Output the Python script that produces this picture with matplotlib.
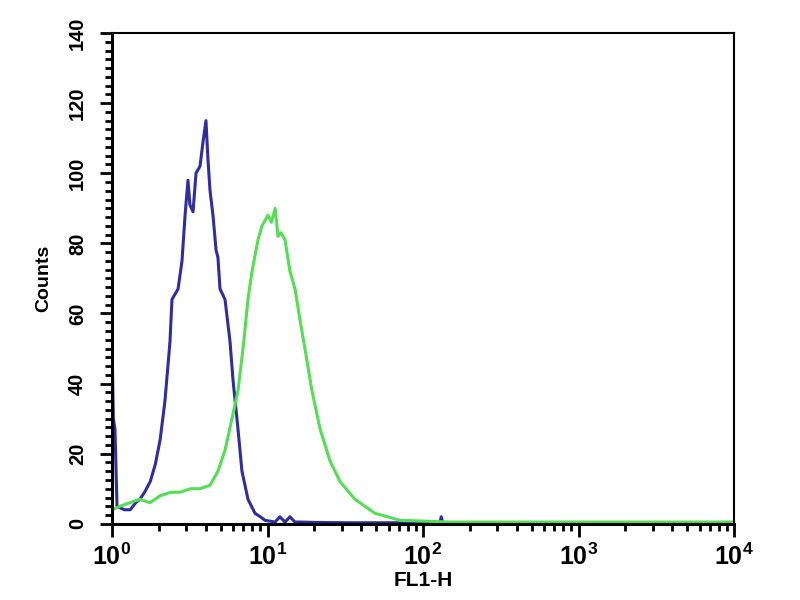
import matplotlib
matplotlib.use("Agg")
import matplotlib.pyplot as plt
from matplotlib.ticker import LogLocator, MultipleLocator, NullFormatter

plt.rcParams["font.family"] = ["Liberation Sans", "DejaVu Sans"]
plt.rcParams["mathtext.default"] = "regular"

# Control (blue) histogram
blue_x = [1.0, 1.02, 1.045, 1.077, 1.2, 1.31, 1.42, 1.51, 1.62, 1.76, 1.9, 2.04, 2.19,
          2.36, 2.43, 2.66, 2.82, 2.95, 3.08, 3.17, 3.32, 3.47, 3.68, 3.85, 4.02, 4.14,
          4.27, 4.46, 4.67, 4.80, 4.95, 5.33, 5.74, 6.00, 6.46, 6.85, 7.49, 8.31, 9.0,
          9.64, 11.2, 12.0, 12.96, 13.95, 15.0, 16.2, 20.0, 33.9, 80.0, 128.6, 131.0,
          134.0, 300.0, 1000.0, 10000.0]
blue_y = [52, 30, 27, 5, 4, 4, 6, 7, 9, 12, 17, 24, 35,
          52, 64, 67, 75, 88, 98, 91, 89, 100, 102, 109, 115, 104,
          95, 88, 78, 76, 67, 64, 52, 41, 27, 15, 7, 3, 2,
          1, 0.5, 2, 0.5, 2, 0.5, 0.5, 0.4, 0.3, 0.3, 0.3, 2,
          0.3, 0.3, 0.3, 0.3]

# Stained sample (green) histogram
green_x = [1.0, 1.126, 1.3, 1.51, 1.75, 2.04, 2.4, 2.74, 3.2, 3.68, 4.27, 4.80, 5.33,
           5.91, 6.46, 6.96, 7.49, 7.95, 8.69, 9.22, 10.07, 10.6, 11.2, 11.68, 12.21,
           12.96, 13.95, 15.03, 16.2, 17.4, 19.3, 21.8, 25.2, 29.3, 36.5, 49.1, 71.1,
           149.0, 656.0, 10000.0]
green_y = [4, 5, 6, 7, 6, 8, 9, 9, 10, 10, 11, 15, 21,
           30, 38, 50, 64, 72, 81, 85, 88, 86, 90, 82, 83,
           81, 72, 67, 58, 50, 38, 27, 18, 12, 7, 3, 1,
           0.5, 0.5, 0.5]

fig = plt.figure(figsize=(8, 6), dpi=100)
ax = fig.add_axes([0.14, 0.127, 0.7775, 0.818])

ax.plot(blue_x, blue_y, color="#2e2e9e", lw=2.2)
ax.plot(green_x, green_y, color="#55dd55", lw=2.2)

ax.set_xscale("log")
ax.set_xlim(1, 10000)
ax.set_ylim(0, 140)

ax.xaxis.set_major_locator(LogLocator(base=10, numticks=10))
ax.xaxis.set_minor_locator(LogLocator(base=10, subs=range(2, 10), numticks=10))
ax.xaxis.set_minor_formatter(NullFormatter())
ax.yaxis.set_major_locator(MultipleLocator(20))
ax.yaxis.set_minor_locator(MultipleLocator(2.5))

ax.tick_params(axis="both", which="major", direction="out", length=9, width=2)
ax.tick_params(axis="both", which="minor", direction="out", length=5, width=2)
ax.tick_params(axis="x", which="major", labelsize=18, pad=5)
ax.tick_params(axis="y", which="major", labelsize=14.5, pad=9)
for lbl in ax.get_yticklabels():
    lbl.set_rotation(90)
    lbl.set_va("center")
    lbl.set_fontweight("bold")
for lbl in ax.get_xticklabels():
    lbl.set_fontweight("bold")

for side in ["left", "bottom"]:
    ax.spines[side].set_linewidth(2.2)
for side in ["top", "right"]:
    ax.spines[side].set_linewidth(1.5)

ax.set_xlabel("FL1-H", fontsize=15, fontweight="bold", labelpad=1)
ax.set_ylabel("Counts", fontsize=14, fontweight="bold", labelpad=11)

fig.savefig("out.png", dpi=100)
